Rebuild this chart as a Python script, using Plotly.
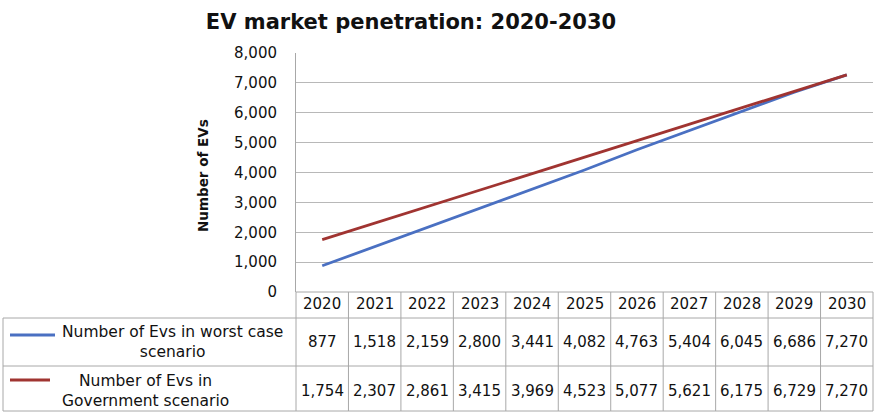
import plotly.graph_objects as go

# Data
years = [2020, 2021, 2022, 2023, 2024, 2025, 2026, 2027, 2028, 2029, 2030]
worst_case = [877, 1518, 2159, 2800, 3441, 4082, 4763, 5404, 6045, 6686, 7270]
government = [1754, 2307, 2861, 3415, 3969, 4523, 5077, 5621, 6175, 6729, 7270]
series_names = ["Number of Evs in worst case<br>scenario",
                "Number of Evs in<br>Government scenario"]
series_colors = ["#4a70c2", "#a03431"]

W, H = 877, 413
L, R, T, B = 296, 4, 53, 121
plot_w = W - L - R
plot_h = H - T - B

FONT = "DejaVu Sans"
TEXT = "#111111"
GRID = "#b8b8b8"
TABLE_LINE = "#a8a8a8"


def px_x(px):
    """Pixel x -> paper x."""
    return (px - L) / plot_w


def px_y(py):
    """Pixel y -> paper y."""
    return (H - B - py) / plot_h


def year_edge(i):
    """Paper x of the boundary left of column i."""
    return i / len(years)


fig = go.Figure()
fig.add_trace(go.Scatter(x=years, y=worst_case, mode="lines",
                         line=dict(color=series_colors[0], width=2.8),
                         showlegend=False, hoverinfo="x+y"))
fig.add_trace(go.Scatter(x=years, y=government, mode="lines",
                         line=dict(color=series_colors[1], width=2.8),
                         showlegend=False, hoverinfo="x+y"))

shapes = []
ann = []

# Data table grid
row_tops = [292, 318, 366, 411]
shapes.append(dict(type="line", xref="paper", yref="paper",
                   x0=0, x1=1, y0=px_y(row_tops[0]), y1=px_y(row_tops[0]),
                   line=dict(color=TABLE_LINE, width=1)))
for ry in row_tops[1:]:
    shapes.append(dict(type="line", xref="paper", yref="paper",
                       x0=px_x(3), x1=1, y0=px_y(ry), y1=px_y(ry),
                       line=dict(color=TABLE_LINE, width=1)))
for i in range(len(years) + 1):
    shapes.append(dict(type="line", xref="paper", yref="paper",
                       x0=year_edge(i), x1=year_edge(i),
                       y0=px_y(row_tops[0]), y1=px_y(row_tops[-1]),
                       line=dict(color=TABLE_LINE, width=1)))
shapes.append(dict(type="line", xref="paper", yref="paper",
                   x0=px_x(3), x1=px_x(3), y0=px_y(318), y1=px_y(411),
                   line=dict(color=TABLE_LINE, width=1)))

# legend keys inside the label cells
key_specs = [(10, 55, 335), (10, 50, 380)]
for (kx0, kx1, ky), col in zip(key_specs, series_colors):
    shapes.append(dict(type="line", xref="paper", yref="paper",
                       x0=px_x(kx0), x1=px_x(kx1), y0=px_y(ky), y1=px_y(ky),
                       line=dict(color=col, width=2.8)))

# series labels
label_pos = [(172, 342), (146, 391)]
for (lx, ly), name in zip(label_pos, series_names):
    ann.append(dict(xref="paper", yref="paper", x=px_x(lx), y=px_y(ly),
                    text=name, showarrow=False, align="center",
                    xanchor="center", yanchor="middle",
                    font=dict(family=FONT, size=15.5, color=TEXT)))

# header years and values
for yr, a, b in zip(years, worst_case, government):
    ann.append(dict(xref="x", yref="paper", x=yr, y=px_y(304),
                    text=str(yr), showarrow=False, xanchor="center", yanchor="middle",
                    font=dict(family=FONT, size=15, color=TEXT)))
    ann.append(dict(xref="x", yref="paper", x=yr, y=px_y(342),
                    text=f"{a:,}", showarrow=False, xanchor="center", yanchor="middle",
                    font=dict(family=FONT, size=15, color=TEXT)))
    ann.append(dict(xref="x", yref="paper", x=yr, y=px_y(391),
                    text=f"{b:,}", showarrow=False, xanchor="center", yanchor="middle",
                    font=dict(family=FONT, size=15, color=TEXT)))

# y-axis title
ann.append(dict(xref="paper", yref="paper", x=px_x(203), y=px_y(176),
                text="<b>Number of EVs</b>", textangle=-90, showarrow=False,
                xanchor="center", yanchor="middle",
                font=dict(family=FONT, size=13.5, color=TEXT)))

fig.update_layout(
    width=W, height=H,
    margin=dict(l=L, r=R, t=T, b=B),
    paper_bgcolor="white", plot_bgcolor="white",
    title=dict(text="<b>EV market penetration: 2020-2030</b>",
               x=411 / W, xref="container", xanchor="center",
               y=1 - 22 / H, yref="container", yanchor="middle",
               font=dict(family=FONT, size=21, color=TEXT)),
    xaxis=dict(range=[years[0] - 0.5, years[-1] + 0.5], showticklabels=False,
               showgrid=False, zeroline=False, showline=False, ticks=""),
    yaxis=dict(range=[0, 8000], dtick=1000, tickformat=",",
               showgrid=True, gridcolor=GRID, gridwidth=1,
               zeroline=False, showline=True, linecolor=TABLE_LINE, linewidth=1,
               ticks="outside", ticklen=15, tickcolor="rgba(0,0,0,0)",
               tickfont=dict(family=FONT, size=15, color=TEXT)),
    shapes=shapes,
    annotations=ann,
)

fig.write_html("out.html")
